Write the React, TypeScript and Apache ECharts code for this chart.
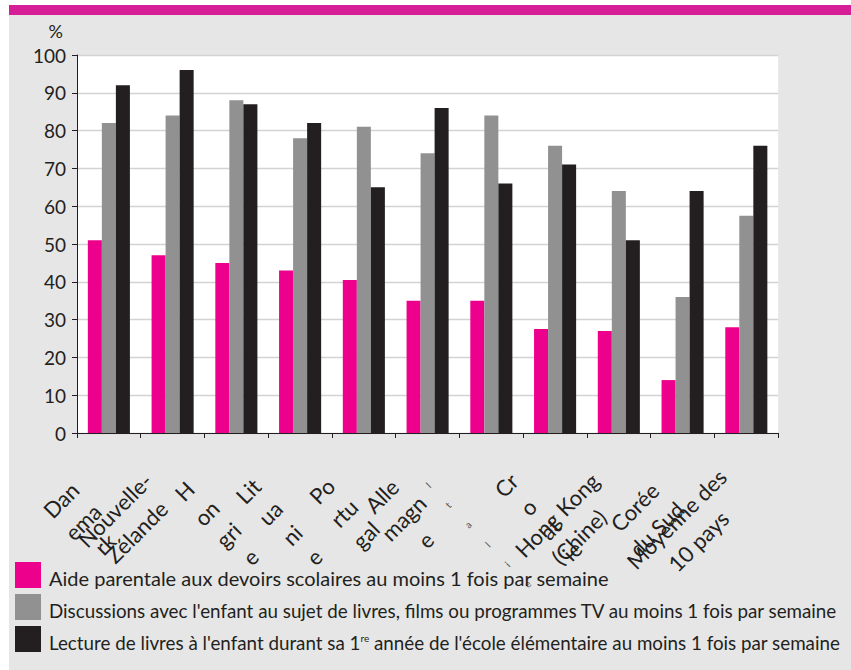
import React, { useEffect, useRef } from 'react';
import * as echarts from 'echarts';

// ---- Data ----
const categories = [
  'Danemark',
  'Nouvelle-Zélande',
  'Hongrie',
  'Lituanie',
  'Portugal',
  'Allemagne',
  'Italie',
  'Croatie',
  'Hong Kong (Chine)',
  'Corée du Sud',
  'Moyenne des 10 pays',
];

// how each category label is broken into lines in the reference
const categoryLabelLines = [
  ['Dan', 'ema', 'rk'],
  ['Nouvelle-', 'Zélande'],
  ['H', 'on', 'gri', 'e'],
  ['Lit', 'ua', 'ni', 'e'],
  ['Po', 'rtu', 'gal'],
  ['Alle', 'magn', 'e'],
  ['I', 't', 'a', 'l', 'i', 'e'],
  ['Cr', 'o', 'at', 'ie'],
  ['Hong Kong', '(Chine)'],
  ['Corée', 'du Sud'],
  ['Moyenne des', '10 pays'],
];

const seriesNames = [
  'Aide parentale aux devoirs scolaires au moins 1 fois par semaine',
  "Discussions avec l'enfant au sujet de livres, films ou programmes TV au moins 1 fois par semaine",
  "Lecture de livres à l'enfant durant sa 1re année de l'école élémentaire au moins 1 fois par semaine",
];

const aideValues = [51, 47, 45, 43, 40.5, 35, 35, 27.5, 27, 14, 28];
const discussionValues = [82, 84, 88, 78, 81, 74, 84, 76, 64, 36, 57.5];
const lectureValues = [92, 96, 87, 82, 65, 86, 66, 71, 51, 64, 76];

const yMin = 0;
const yMax = 100;
const yStep = 10;
const yUnit = '%';

// ---- Layout / style ----
const COLORS = ['#ec008c', '#929192', '#231f20'];
const TEXT = '#231f20';
const FONT = 'Lato, "Open Sans", sans-serif';

// screen offsets (dx, dy) of each x label block centre relative to its anchor
const LABEL_OFFSETS: [number, number][] = [
  [-26, 2], [-47, 1], [-19, 4], [-19, 4], [-20, -7], [-24, -2],
  [-14, 14], [-16, -2], [-51, 6], [-37, -2], [-59, 10],
];

function buildRich() {
  const rich: Record<string, any> = {};
  LABEL_OFFSETS.forEach(([dx, dy], i) => {
    const u = 0.7071 * (dx - dy);
    const v = 0.7071 * (dx + dy);
    const isTiny = i === 6;
    rich['t' + i] = {
      align: 'center',
      fontSize: isTiny ? 10 : 22,
      lineHeight: isTiny ? 28 : 31,
      fontFamily: FONT,
      color: isTiny ? '#555555' : TEXT,
      padding: [0, Math.max(0, -2 * u), 0, Math.max(0, 2 * u)],
    };
    rich['s' + i] = {
      fontSize: 1,
      lineHeight: Math.max(1, Math.abs(2 * v)),
    };
  });
  return rich;
}

function labelFormatter(_value: string, index: number) {
  const [dx, dy] = LABEL_OFFSETS[index];
  const v = 0.7071 * (dx + dy);
  const lines = categoryLabelLines[index].map((l) => `{t${index}|${l}}`);
  const spacer = `{s${index}| }`;
  if (v < 0) lines.push(spacer);
  else lines.unshift(spacer);
  return lines.join('\n');
}

export default function App() {
  const ref = useRef<HTMLDivElement>(null);

  useEffect(() => {
    if (!ref.current) return;
    const chart = echarts.init(ref.current, undefined, { renderer: 'svg' });
    const values = [aideValues, discussionValues, lectureValues];

    chart.setOption({
      animation: false,
      textStyle: { fontFamily: FONT, color: TEXT },
      color: COLORS,
      graphic: [
        {
          type: 'rect',
          silent: true,
          shape: { x: 9, y: 5, width: 842, height: 10 },
          style: { fill: '#d61f96' },
        },
      ],
      grid: {
        left: 77,
        top: 55,
        width: 706,
        height: 378,
        show: true,
        backgroundColor: '#ffffff',
        borderWidth: 0,
      },
      legend: {
        orient: 'vertical',
        left: 15,
        top: 562,
        padding: 0,
        itemWidth: 26,
        itemHeight: 26,
        itemGap: 6,
        icon: 'rect',
        selectedMode: false,
        data: seriesNames,
        textStyle: {
          fontFamily: FONT,
          color: TEXT,
          fontSize: 19,
          padding: [6, 0, 0, 3],
          rich: {
            a: { fontSize: 20, fontFamily: FONT, color: TEXT },
            b: { fontSize: 18.8, fontFamily: FONT, color: TEXT },
            sup: { fontSize: 10, fontFamily: FONT, color: TEXT, verticalAlign: 'top' },
          },
        },
        formatter: (name: string) => {
          if (name === seriesNames[0]) return `{a|${name}}`;
          if (name === seriesNames[2]) {
            const idx = name.indexOf('1re');
            return `{b|${name.slice(0, idx + 1)}}{sup|re}{b|${name.slice(idx + 3)}}`;
          }
          return `{b|${name}}`;
        },
      },
      xAxis: {
        type: 'category',
        data: categories,
        axisLine: { show: true, lineStyle: { color: TEXT, width: 1 } },
        axisTick: { show: true, length: 5, lineStyle: { color: TEXT } },
        axisLabel: {
          interval: 0,
          rotate: 45,
          align: 'center',
          verticalAlign: 'middle',
          margin: 87,
          formatter: labelFormatter,
          rich: buildRich(),
        },
        splitLine: { show: false },
      },
      yAxis: {
        type: 'value',
        min: yMin,
        max: yMax,
        interval: yStep,
        name: yUnit,
        nameLocation: 'end',
        nameGap: 24,
        nameTextStyle: {
          fontFamily: FONT,
          fontSize: 18,
          color: TEXT,
          align: 'right',
          verticalAlign: 'middle',
          padding: [0, 14, 0, 0],
        },
        axisLine: { show: true, lineStyle: { color: TEXT, width: 1 } },
        axisTick: { show: true, length: 5, lineStyle: { color: TEXT } },
        axisLabel: { fontFamily: FONT, fontSize: 19, color: TEXT, margin: 11 },
        splitLine: { show: true, lineStyle: { color: '#d3d3d3', width: 1.3 } },
      },
      series: seriesNames.map((name, i) => ({
        name,
        type: 'bar',
        data: values[i],
        barGap: '0%',
        barCategoryGap: '34%',
        itemStyle: { color: COLORS[i] },
      })),
    });

    return () => chart.dispose();
  }, []);

  return (
    <div style={{ position: 'absolute', left: 0, top: 0, width: 851, height: 670, background: '#ffffff' }}>
      <div
        style={{ position: 'absolute', left: 9, top: 5, width: 842, height: 665, background: '#e6e6e6' }}
      />
      <div ref={ref} style={{ position: 'absolute', left: 0, top: 0, width: 851, height: 670 }} />
    </div>
  );
}
